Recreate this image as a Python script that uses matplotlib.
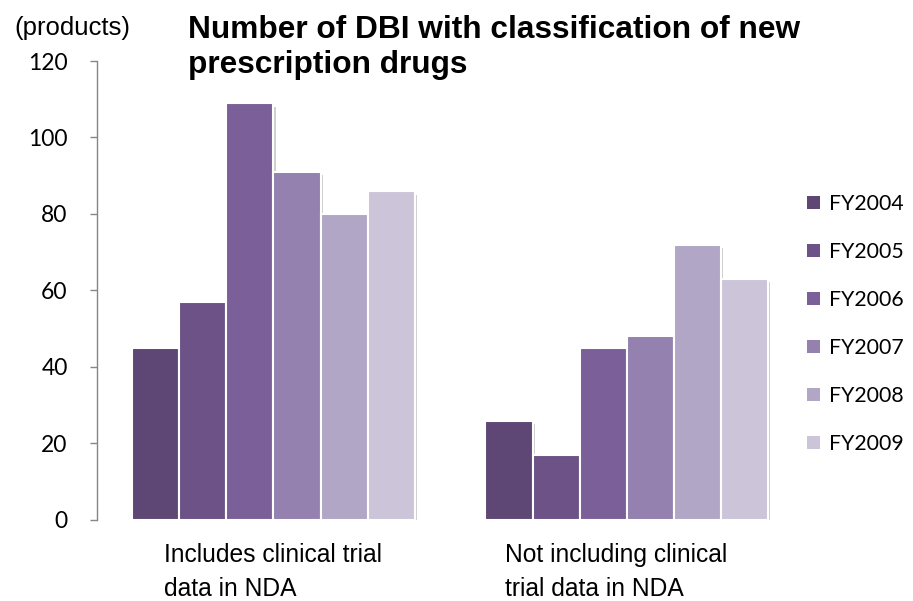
import matplotlib
matplotlib.use("Agg")
import matplotlib.pyplot as plt
import matplotlib.patheffects as pe
import numpy as np

# Chart data
categories = ["Includes clinical trial\ndata in NDA", "Not including clinical\ntrial data in NDA"]
years = ["FY2004", "FY2005", "FY2006", "FY2007", "FY2008", "FY2009"]
fy2004 = [45, 26]
fy2005 = [57, 17]
fy2006 = [109, 45]
fy2007 = [91, 48]
fy2008 = [80, 72]
fy2009 = [86, 63]
series = [fy2004, fy2005, fy2006, fy2007, fy2008, fy2009]
colors = ["#5E4775", "#6C5287", "#7B5F98", "#9481AF", "#B1A6C5", "#CCC4D8"]
yticks = [0, 20, 40, 60, 80, 100, 120]

num_font = ["Lato", "DejaVu Sans"]
txt_font = ["Liberation Sans", "DejaVu Sans"]

fig = plt.figure(figsize=(9.13, 6.01), dpi=100)
ax = fig.add_axes([0.106, 0.1348, 0.774, 0.7637])

x = np.arange(len(categories))
group_w = 0.8
bar_w = group_w / len(years)
shadow = [pe.SimplePatchShadow(offset=(1.5, -2.5), shadow_rgbFace="#777777", alpha=0.35), pe.Normal()]
for i, (vals, col, lab) in enumerate(zip(series, colors, years)):
    xs = x - group_w / 2 + bar_w * (i + 0.5)
    ax.bar(xs, vals, width=bar_w, color=col, edgecolor="white", linewidth=1.5,
           label=lab, path_effects=shadow, zorder=2)

ax.set_xlim(-0.5, 1.5)
ax.set_ylim(0, 120)
ax.set_yticks(yticks)
ax.set_yticklabels([str(v) for v in yticks], fontfamily=num_font, fontsize=16.5)
ax.tick_params(axis="y", direction="out", length=5, width=1, color="#868686", pad=16)
ax.set_xticks([])
for s in ["top", "right", "bottom"]:
    ax.spines[s].set_visible(False)
ax.spines["left"].set_color("#868686")
ax.spines["left"].set_linewidth(1)

# Category captions under each group
offsets = [-0.31, -0.345]
for xi, off, cat in zip(x, offsets, categories):
    ax.text(xi + off, -0.05, cat, transform=ax.get_xaxis_transform(),
            ha="left", va="top", fontsize=17.7, fontfamily=txt_font,
            linespacing=1.55)

leg = ax.legend(loc="center left", bbox_to_anchor=(0.978, 0.427), frameon=False,
                prop={"family": num_font, "size": 15.3}, handlelength=0.6,
                handleheight=0.6, handletextpad=0.45, labelspacing=1.32)
for h in leg.legend_handles:
    h.set_path_effects([])
    h.set_edgecolor("none")

fig.text(0.016, 0.953, "(products)", fontsize=18.5, fontfamily=txt_font, va="center", ha="left")
fig.text(0.206, 0.975, "Number of DBI with classification of new\nprescription drugs",
         fontsize=22.8, fontweight="bold", fontfamily=txt_font, va="top", ha="left",
         linespacing=1.2, transform=fig.transFigure)

fig.savefig("out.png", dpi=100)
